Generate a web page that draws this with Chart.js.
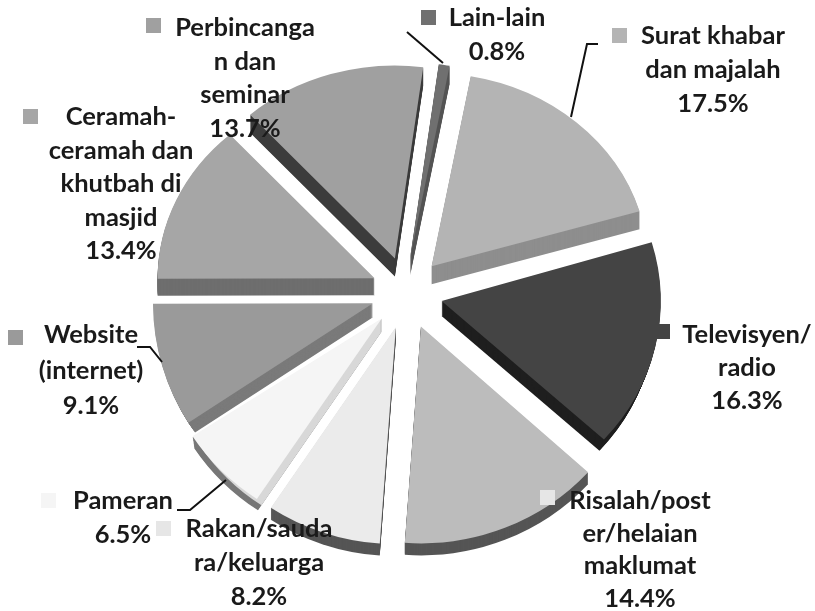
<!DOCTYPE html>
<html>
<head>
<meta charset="utf-8">
<style>
html,body{margin:0;padding:0;background:#fff;}
canvas{display:block;filter:blur(0.6px);}
</style>
<script src="https://cdn.jsdelivr.net/npm/chart.js@4"></script>
</head>
<body>
<canvas id="c" width="815" height="611"></canvas>
<script>
const categories = ['Surat khabar dan majalah','Televisyen/ radio','Risalah/poster/helaian maklumat','Rakan/saudara/keluarga','Pameran','Website (internet)','Ceramah-ceramah dan khutbah di masjid','Perbincangan dan seminar','Lain-lain'];
const values = [17.5,16.3,14.4,8.2,6.5,9.1,13.4,13.7,0.8];
const faceColors = ['#b4b4b4','#444444','#bcbcbc','#ebebeb','#f5f5f5','#9a9a9a','#a6a6a6','#a0a0a0','#707070'];
const sideColors = ['#8e8e8e','#1e1e1e','#555555','#555555','#d8d8d8','#7a7a7a','#6e6e6e','#3c3c3c','#555555'];
const rimColors  = ['#8e8e8e','#1e1e1e','#555555','#555555','#777777','#7a7a7a','#6e6e6e','#3c3c3c','#555555'];
const keyColors  = ['#b4b4b4','#444444','#e6e6e6','#e6e6e6','#f5f5f5','#9a9a9a','#a6a6a6','#a0a0a0','#707070'];
const labelLines = [
  ['Surat khabar','dan majalah'],['Televisyen/','radio'],['Risalah/post','er/helaian','maklumat'],
  ['Rakan/sauda','ra/keluarga'],['Pameran'],['Website','(internet)'],
  ['Ceramah-','ceramah dan','khutbah di','masjid'],['Perbincanga','n dan','seminar'],['Lain-lain']
];
// layout only
const labelX = [713,747,640,259,123,91,121,245,497];
const labelY = [36,335,501,529,501,335,117,28,18];
const lineGap = [34,33,32.5,34,34,35.5,33.5,33.5,34];
const keyX = [619,662,547,163,48,15,30,153,428];
const keyY = [35,331,497,528,500,337,116,25,17];
const depth = [18,15,12,12,13,14,17,18,18];
const squashY = [0.89,0.95,1,1,1,1,0.89,0.89,0.89];
const stretchX = [1,1.01,1.04,1.04,1.04,1,1,1,1];
const shrink = [0,6,0,0,2,8,0,0,0];
const grow = [0,0,0,0,0,3,0,0,2];
const shiftX = [0,-1,0,0,0,0,0,-2,-3];
const leaders = [
  [[407,32],[443,63]],
  [[598,44],[587,44],[571,117]],
  [[137,347],[150,347],[162,362]],
  [[177,510],[190,510],[226,480]]
];
const fontSpec = '700 25.5px Lato';
const explode = 36;

function drawArcWith(arc, ctx, color){
  const o = arc.options;
  arc.options = Object.assign(Object.create(o), {backgroundColor: color, borderWidth: 0, borderColor: color});
  arc.draw(ctx);
  arc.options = o;
}
const pie3d = {
  id:'pie3d',
  beforeDatasetDraw(chart){
    const ctx = chart.ctx;
    chart.getDatasetMeta(0).data.forEach((arc,i)=>{
      const mid = (arc.startAngle+arc.endAngle)/2;
      const r0 = arc.outerRadius;
      const r = r0 + grow[i];
      const cx = arc.x, cy = arc.y;
      const place = (dy)=>{
        ctx.translate(Math.cos(mid)*explode+shiftX[i], Math.sin(mid)*explode+dy);
        ctx.translate(cx,cy); ctx.scale(stretchX[i],squashY[i]); ctx.translate(-cx,-cy);
      };
      const n = depth[i];
      for(let d=n; d>=1; d--){
        arc.outerRadius = r - shrink[i]*d/n;
        ctx.save(); place(d); drawArcWith(arc,ctx,rimColors[i]); ctx.restore();
      }
      if(rimColors[i]!==sideColors[i]){
        arc.outerRadius = r-8;
        for(let d=n; d>=1; d--){
          ctx.save(); place(d); drawArcWith(arc,ctx,sideColors[i]); ctx.restore();
        }
      }
      arc.outerRadius = r;
      ctx.save(); place(0); drawArcWith(arc,ctx,faceColors[i]); ctx.restore();
      arc.outerRadius = r0;
    });
    return false;
  },
  afterDatasetsDraw(chart){
    const ctx = chart.ctx;
    ctx.save();
    ctx.strokeStyle='#111'; ctx.lineWidth=2;
    leaders.forEach(l=>{
      ctx.beginPath();
      l.forEach((p,k)=> k?ctx.lineTo(p[0],p[1]):ctx.moveTo(p[0],p[1]));
      ctx.stroke();
    });
    ctx.font=fontSpec; ctx.textAlign='center'; ctx.textBaseline='middle'; 
    categories.forEach((c,i)=>{
      ctx.fillStyle=keyColors[i];
      ctx.fillRect(keyX[i]-7,keyY[i]-7,15,15);
      ctx.fillStyle='#1a1a1a';
      const lines = labelLines[i].concat([values[i].toFixed(1)+'%']);
      lines.forEach((t,k)=> ctx.fillText(t,labelX[i],labelY[i]+k*lineGap[i]));
    });
    ctx.restore();
  }
};
new Chart(document.getElementById('c'),{
  type:'pie',
  data:{labels:categories,datasets:[{data:values,backgroundColor:faceColors,borderWidth:0}]},
  options:{
    responsive:false,animation:false,rotation:10.4,radius:217,
    layout:{padding:{bottom:25}},
    plugins:{legend:{display:false},tooltip:{enabled:false}}
  },
  plugins:[pie3d]
});
</script>
</body>
</html>
